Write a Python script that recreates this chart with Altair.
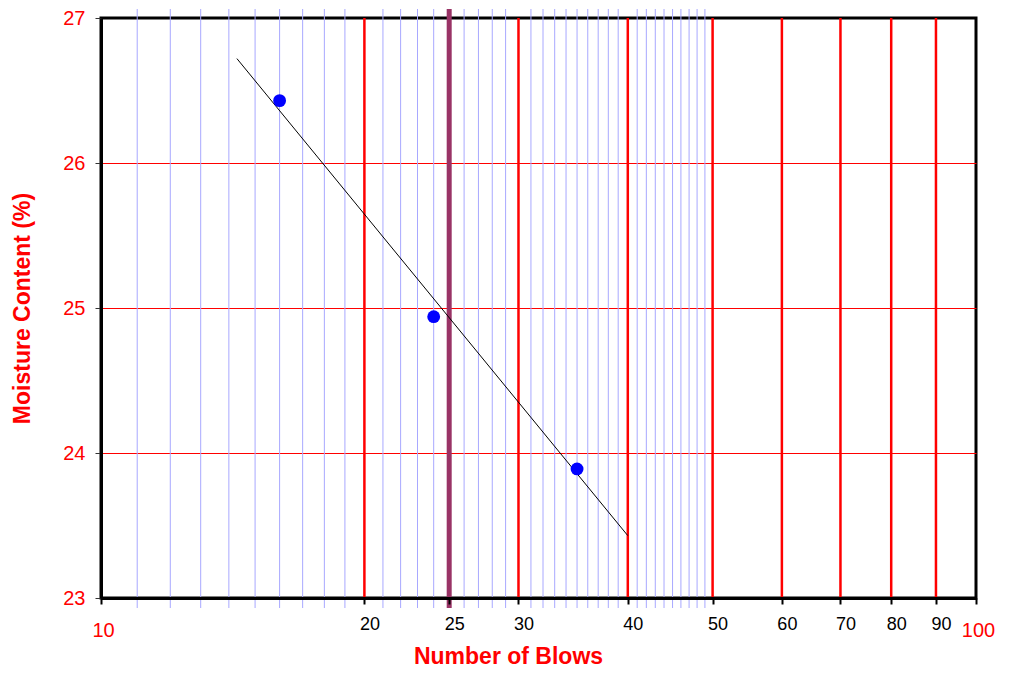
import altair as alt
import pandas as pd

# Data
blows = [16, 24, 35]
moisture = [26.43, 24.94, 23.89]

trend_blows = [14.3, 40]
trend_moisture = [26.72, 23.43]

minor_lines = [11, 12, 13, 14, 15, 16, 17, 18, 19,
               21, 22, 23, 24, 26, 27, 28, 29,
               31, 32, 33, 34, 35, 36, 37, 38, 39,
               41, 42, 43, 44, 45, 46, 47, 48, 49]
major_lines = [20, 30, 40, 50, 60, 70, 80, 90]
target_line = [25]

x_ticks = [10, 20, 25, 30, 40, 50, 60, 70, 80, 90, 100]
y_ticks = [23, 24, 25, 26, 27]

FONT = "Liberation Sans"
RED = "#ff0000"

pts = pd.DataFrame({"blows": blows, "moisture": moisture})
trend = pd.DataFrame({"blows": trend_blows, "moisture": trend_moisture})
minor = pd.DataFrame({"blows": minor_lines})
major = pd.DataFrame({"blows": major_lines})
target = pd.DataFrame({"blows": target_line})

xscale = alt.Scale(type="log", domain=[10, 100], nice=False)
yscale = alt.Scale(domain=[23, 27], nice=False, zero=False)

end_test = "datum.value == 10 || datum.value == 100"
xaxis = alt.Axis(
    values=x_ticks, format="d", grid=False, title="Number of Blows",
    labelFont=FONT, labelBaseline="alphabetic",
    labelColor={"condition": {"test": end_test, "value": RED}, "value": "#000000"},
    labelFontSize={"condition": {"test": end_test, "value": 20}, "value": 18},
    labelPadding={"condition": {"test": end_test, "value": 32}, "value": 25},
    labelOffset={"condition": {"test": end_test, "value": 2}, "value": 5},
    labelOverlap=False, labelFlush=False, labelBound=False,
    tickColor="#000000", tickSize=6, tickWidth=2,
    domainColor="#000000", domainWidth=3,
    titleFont=FONT, titleFontSize=23, titleFontWeight="bold", titleColor=RED,
    titleX=407, titleY=65, titleAlign="center", titleBaseline="alphabetic",
    titleAnchor="start", zindex=1,
)
yaxis = alt.Axis(
    values=y_ticks, format="d", grid=True, gridColor=RED, gridWidth=1,
    gridOpacity={"condition": {"test": "datum.value == 23 || datum.value == 27", "value": 0}, "value": 1},
    title="Moisture Content (%)",
    labelFont=FONT, labelFontSize=20, labelColor=RED, labelPadding=10,
    labelOverlap=False, labelFlush=False, labelBound=False,
    tickColor="#333333", tickSize=6, tickWidth=1,
    domainColor="#000000", domainWidth=3,
    titleFont=FONT, titleFontSize=23, titleFontWeight="bold", titleColor=RED,
    titleX=-79, titleY=290, titleAngle=-90, titleAlign="center",
    titleBaseline="middle", titleAnchor="start",
)


def X():
    return alt.X("blows:Q", scale=xscale, axis=xaxis)


def Y():
    return alt.Y("moisture:Q", scale=yscale, axis=yaxis)


minor_layer = alt.Chart(minor).mark_rule(color="#a8a8ff", strokeWidth=1).encode(
    x=X(), y=alt.value(-9), y2=alt.value(590)
)
major_layer = alt.Chart(major).mark_rule(color=RED, strokeWidth=2.5).encode(
    x=X(), y=alt.value(0), y2=alt.value(580)
)
target_layer = alt.Chart(target).mark_rule(color="#993366", strokeWidth=5).encode(
    x=X(), y=alt.value(-9), y2=alt.value(590)
)
trend_layer = alt.Chart(trend).mark_line(color="#000000", strokeWidth=1).encode(
    x=X(), y=Y()
)
point_layer = alt.Chart(pts).mark_circle(size=165, color="#0000ff", opacity=1).encode(
    x=X(), y=Y()
)

chart = alt.layer(
    minor_layer, major_layer, target_layer, trend_layer, point_layer
).properties(
    width=875, height=580,
    autosize=alt.AutoSizeParams(type="none"),
    padding={"left": 93, "top": 10, "right": 25, "bottom": 71},
).configure_view(
    stroke="#000000", strokeWidth=3
)

chart.save("out.html", embed_options={"renderer": "svg", "actions": False})
